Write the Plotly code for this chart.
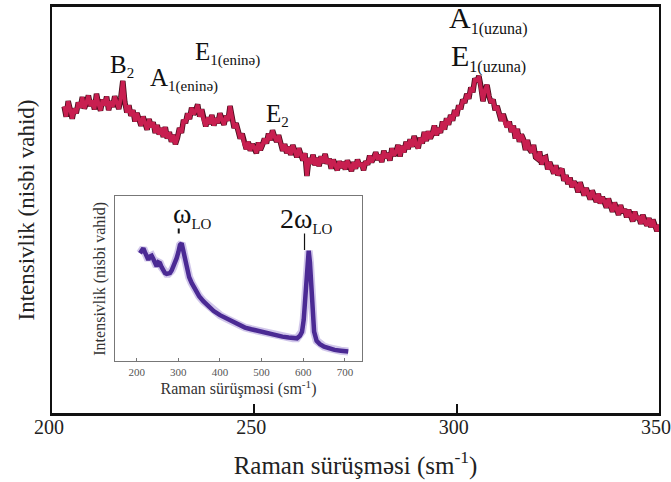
import plotly.graph_objects as go

# ---- main spectrum (Raman shift, cm^-1 ; relative intensity), 0.5 cm^-1 step ----
main_y = [75.5, 73.0, 76.8, 74.2, 72.5, 75.0, 73.8, 76.5, 75.2, 77.8,
          75.0, 76.4, 78.2, 75.6, 77.0, 74.8, 78.6, 76.0, 74.5, 77.2,
          75.8, 77.9, 74.6, 76.8, 75.4, 78.0, 76.2, 74.9, 77.6, 81.8,
          76.5, 74.0, 75.8, 73.2, 74.6, 71.8, 73.9, 72.6, 70.8, 73.0,
          71.2, 69.8, 72.4, 70.4, 71.6, 69.0, 70.9, 68.6, 70.2, 68.0,
          70.4, 67.6, 69.2, 66.8, 68.5, 66.2, 67.8, 70.2, 69.0, 72.2,
          71.4, 73.8, 72.4, 75.2, 73.6, 74.4, 76.0, 73.0, 74.8, 72.0,
          70.6, 72.8, 71.2, 73.4, 70.8, 72.6, 71.4, 73.8, 72.2, 71.0,
          73.2, 72.0, 75.6, 72.8, 70.2, 71.4, 69.0, 67.6, 68.8, 66.2,
          65.0, 66.8, 64.6, 66.2, 65.4, 64.0, 66.6, 64.8, 66.0, 67.6,
          66.4, 68.8, 67.2, 69.6, 68.0, 66.8, 68.4, 66.0, 64.6, 66.2,
          64.0, 65.6, 63.6, 66.0, 64.4, 63.0, 65.2, 63.4, 62.2, 64.0,
          58.4, 62.8, 61.4, 63.6, 61.0, 62.8, 60.8, 63.2, 61.6, 63.8,
          61.4, 62.6, 60.2, 62.4, 61.0, 59.8, 62.0, 60.4, 61.8, 60.0,
          62.2, 60.6, 59.6, 61.8, 60.2, 62.4, 60.8, 61.6, 59.8, 62.0,
          61.2, 63.4, 61.8, 62.8, 64.2, 62.4, 63.6, 61.8, 64.6, 62.8,
          64.0, 62.2, 65.2, 63.4, 64.2, 66.0, 63.2, 65.8, 64.2, 66.8,
          65.0, 67.4, 65.6, 68.2, 66.0, 65.2, 67.8, 66.4, 69.2, 67.0,
          69.4, 67.6, 68.8, 70.8, 68.4, 70.2, 69.0, 71.8, 69.8, 72.6,
          71.0, 73.4, 72.0, 74.6, 73.2, 75.8, 74.8, 77.2, 76.4, 78.6,
          77.4, 80.2, 79.0, 82.4, 81.6, 83.0, 80.4, 76.8, 79.6, 80.8,
          78.0, 76.4, 77.2, 74.6, 75.6, 73.4, 72.0, 73.6, 71.2, 70.4,
          71.8, 69.2, 70.8, 67.6, 70.0, 66.8, 68.6, 67.4, 64.8, 67.2,
          65.0, 64.2, 66.0, 63.0, 62.6, 64.4, 61.2, 62.8, 63.0, 60.0,
          61.8, 60.2, 59.0, 61.0, 58.6, 59.4, 60.2, 57.2, 58.6, 56.4,
          58.0, 55.6, 57.0, 56.2, 54.4, 56.8, 55.0, 53.6, 55.4, 54.0,
          52.6, 54.8, 53.0, 52.0, 54.0, 51.6, 53.2, 52.2, 50.6, 52.8,
          51.0, 49.6, 51.8, 50.0, 48.8, 51.2, 49.4, 50.2, 48.2, 50.0,
          48.6, 47.2, 49.6, 47.8, 48.4, 46.6, 48.8, 47.0, 46.2, 48.0,
          45.8, 47.6, 46.0, 44.8, 46.4]
main_x = [203 + 0.5 * i for i in range(len(main_y))]

main_ticks = [200, 250, 300, 350]

# ---- inset spectrum ----
ins_x = [208, 212, 216, 220, 224, 228, 232, 236, 240, 244, 248, 252, 256, 260,
         264, 268, 272, 276, 280, 284, 288, 292, 296, 300, 304, 308, 312, 316,
         320, 326, 332, 340, 350, 360, 372, 385, 400, 415, 430, 445, 460, 475,
         490, 505, 520, 535, 550, 565, 575, 585, 592, 597, 601, 605, 608, 611,
         613, 616, 619, 622, 626, 632, 640, 650, 662, 675, 690, 708]
ins_y = [65.5, 67.5, 68.5, 66.0, 63.0, 61.5, 63.5, 64.0, 62.0, 59.0, 57.5, 60.0,
         59.5, 57.0, 55.0, 53.5, 53.0, 53.0, 53.5, 55.0, 57.0, 59.5, 62.5, 66.0,
         70.5, 71.5, 67.0, 61.0, 56.0, 51.0, 47.5, 43.5, 39.5, 36.5, 33.5, 30.5,
         28.0, 26.0, 24.0, 22.5, 20.5, 19.5, 18.5, 17.5, 16.5, 16.0, 15.0, 14.5,
         14.0, 14.0, 15.5, 18.0, 25.0, 40.0, 55.0, 66.0, 67.0, 60.0, 45.0, 30.0,
         18.0, 12.5, 10.5, 9.0, 8.0, 7.0, 6.5, 6.0]
ins_ticks = [200, 300, 400, 500, 600, 700]

# ---- peak labels (main) ----
lab_main = ["B", "A", "E", "E", "A", "E"]
lab_sub = ["2", "1(eninə)", "1(eninə)", "2", "1(uzuna)", "1(uzuna)"]
lab_x = [213.8, 223.8, 234.8, 252.4, 297.5, 298.0]
lab_y = [85.5, 82.1, 88.5, 73.5, 96.8, 87.5]
lab_size = [25, 25, 25, 25, 30, 30]
lab_subsize = [15, 15, 15, 15, 16, 16]

SERIF = "Liberation Serif, Times New Roman, serif"

fig = go.Figure()
fig.add_trace(go.Scatter(x=main_x, y=main_y, mode="lines",
                         line=dict(color="#4a0d1c", width=5.5), hoverinfo="skip",
                         showlegend=False))
fig.add_trace(go.Scatter(x=main_x, y=main_y, mode="lines",
                         line=dict(color="#c81f50", width=3.8), showlegend=False))

fig.add_trace(go.Scatter(x=ins_x, y=ins_y, mode="lines", xaxis="x2", yaxis="y2",
                         line=dict(color="#a48fd6", width=8), opacity=0.5,
                         hoverinfo="skip", showlegend=False))
fig.add_trace(go.Scatter(x=ins_x, y=ins_y, mode="lines", xaxis="x2", yaxis="y2",
                         line=dict(color="#4b2a94", width=4.5), showlegend=False))

annotations = []
for m, s_, x, y, s, ss in zip(lab_main, lab_sub, lab_x, lab_y, lab_size, lab_subsize):
    t = "%s<sub><span style='font-size:%dpx'>%s</span></sub>" % (m, ss, s_)
    annotations.append(dict(x=x, y=y, xref="x", yref="y", text=t, showarrow=False,
                            xanchor="left", yanchor="middle",
                            font=dict(family=SERIF, size=s, color="#111")))

annotations.append(dict(x=333, y=88.5, xref="x2", yref="y2",
                        text="ω<sub><span style='font-size:15px'>LO</span></sub>",
                        showarrow=False, xanchor="center", yanchor="middle",
                        font=dict(family=SERIF, size=28, color="#111")))
annotations.append(dict(x=607, y=85.5, xref="x2", yref="y2",
                        text="2ω<sub><span style='font-size:15px'>LO</span></sub>",
                        showarrow=False, xanchor="center", yanchor="middle",
                        font=dict(family=SERIF, size=28, color="#111")))

shapes = [
    dict(type="line", xref="x2", yref="y2", x0=301, x1=301, y0=77.5, y1=80.5,
         line=dict(color="#111", width=2)),
    dict(type="line", xref="x2", yref="y2", x0=603, x1=603, y0=67.5, y1=77.5,
         line=dict(color="#111", width=1.2)),
]

fig.update_layout(
    width=671, height=482,
    margin=dict(l=52, r=12, t=7, b=69, autoexpand=False),
    paper_bgcolor="white", plot_bgcolor="white",
    showlegend=False,
    annotations=annotations,
    shapes=shapes,
    xaxis=dict(range=[200, 350], tickvals=main_ticks, ticks="inside", ticklen=9,
               tickwidth=2, tickcolor="#111", showline=True, linewidth=2.5,
               linecolor="#111", mirror=True, showgrid=False, zeroline=False,
               automargin=False,
               ticklabeloverflow="allow", ticklabelshift=-3, ticklabelstandoff=-6,
               tickfont=dict(family=SERIF, size=20, color="#222"),
               title=dict(text="Raman sürüşməsi (sm<sup>-1</sup>)", standoff=20,
                          font=dict(family=SERIF, size=25, color="#222"))),
    yaxis=dict(range=[0, 100], showticklabels=False, ticks="", showline=True,
               linewidth=2, linecolor="#111", mirror=True, showgrid=False,
               zeroline=False, automargin=False,
               title=dict(text="Intensivlik (nisbi vahid)", standoff=9,
                          font=dict(family=SERIF, size=23, color="#222"))),
    xaxis2=dict(domain=[0.1038, 0.5107], anchor="y2", range=[148, 741],
                tickvals=ins_ticks, ticks="inside", ticklen=3, tickcolor="#777",
                showline=True, linewidth=1, linecolor="#777", mirror=True,
                showgrid=False, zeroline=False, automargin=False,
                tickfont=dict(family=SERIF, size=11, color="#555"),
                title=dict(text="Raman sürüşməsi (sm<sup>-1</sup>)", standoff=0,
                           font=dict(family=SERIF, size=16, color="#333"))),
    yaxis2=dict(domain=[0.127, 0.534], anchor="x2", range=[0, 100],
                showticklabels=False, ticks="", showline=True, linewidth=1,
                linecolor="#777", mirror=True, showgrid=False, zeroline=False,
                automargin=False,
                title=dict(text="Intensivlik (nisbi vahid)", standoff=4,
                           font=dict(family=SERIF, size=16, color="#333"))),
)

fig.write_html("out.html")
